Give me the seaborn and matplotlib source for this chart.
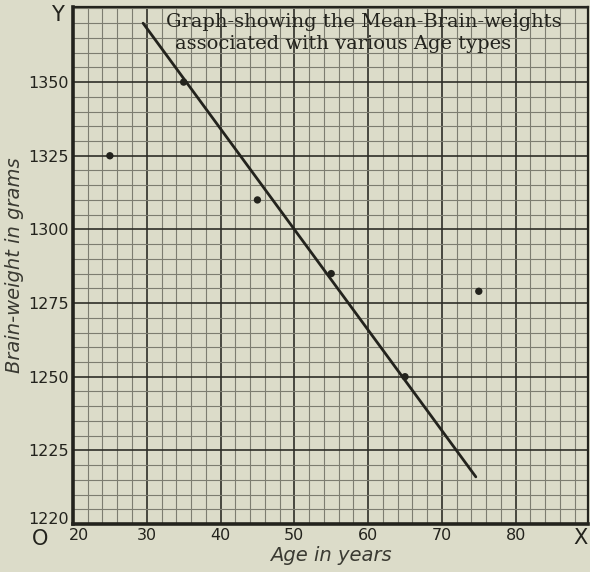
import numpy as np
import pandas as pd
import matplotlib.pyplot as plt
import seaborn as sns
from matplotlib.ticker import MultipleLocator
from matplotlib.transforms import offset_copy

# Mean brain-weight per age type
age = [25, 35, 45, 55, 65, 75]
brain_weight = [1325, 1350, 1310, 1285, 1250, 1279]

# the hand-drawn trend line
fit_age = [29.5, 74.6]
fit_weight = [1370, 1216]

x_ticks = [20, 30, 40, 50, 60, 70, 80]
x_tick_labels = ['20', '30', '40', '50', '60', '70', '80']
# the bottom line of the plate is labelled 1220 although it sits one step below 1225
y_ticks = [1200, 1225, 1250, 1275, 1300, 1325, 1350]
y_tick_labels = ['1220', '1225', '1250', '1275', '1300', '1325', '1350']

paper = '#dcdcc9'
ink = '#23231d'

sns.set_style('white')
plt.rcParams['font.family'] = ['DejaVu Sans']

points = pd.DataFrame({'age': age, 'weight': brain_weight})
trend = pd.DataFrame({'age': fit_age, 'weight': fit_weight})

fig = plt.figure(figsize=(5.9, 5.72), dpi=100, facecolor=paper)
ax = fig.add_axes([0.1237, 0.0839, 0.8729, 0.9039])
ax.set_facecolor(paper)

sns.lineplot(data=trend, x='age', y='weight', ax=ax, color=ink, linewidth=2.0, zorder=4)
sns.scatterplot(data=points, x='age', y='weight', ax=ax, color=ink, s=28,
                edgecolor='none', zorder=5)

ax.set_xlim(20, 89.8)
ax.set_ylim(1200, 1375.5)

# graph-paper grid
ax.xaxis.set_major_locator(MultipleLocator(10))
ax.yaxis.set_major_locator(MultipleLocator(25))
ax.xaxis.set_minor_locator(MultipleLocator(2))
ax.yaxis.set_minor_locator(MultipleLocator(5))
ax.grid(which='minor', color='#7d7d70', linewidth=0.8)
ax.grid(which='major', color='#2e2e27', linewidth=1.2)
ax.set_axisbelow(True)

ax.set_xticks(x_ticks, x_tick_labels)
ax.set_yticks(y_ticks, y_tick_labels)
ax.tick_params(which='both', length=0, labelsize=11.5, labelcolor=ink, pad=3)

# nudge the corner labels the way the plate has them
first_x = ax.get_xticklabels()[0]
first_x.set_transform(offset_copy(first_x.get_transform(), fig=fig, x=6, y=0, units='dots'))
first_y = ax.get_yticklabels()[0]
first_y.set_transform(offset_copy(first_y.get_transform(), fig=fig, x=0, y=6, units='dots'))

for side in ['left', 'bottom']:
    ax.spines[side].set_linewidth(2.6)
    ax.spines[side].set_color(ink)
for side in ['right', 'top']:
    ax.spines[side].set_linewidth(1.6)
    ax.spines[side].set_color(ink)

ax.set_xlabel('Age in years', fontsize=14, style='italic', color='#3a3a32', labelpad=2)
ax.set_ylabel('Brain-weight in grams', fontsize=14, style='italic', color='#3a3a32', labelpad=3)

# title written on the paper
ax.text(0.180, 0.970, 'Graph-showing the Mean-Brain-weights', transform=ax.transAxes,
        family='DejaVu Serif', fontsize=14, color=ink, ha='left', va='center', zorder=6)
ax.text(0.198, 0.928, 'associated with various Age types', transform=ax.transAxes,
        family='DejaVu Serif', fontsize=14, color=ink, ha='left', va='center', zorder=6)

# axis letters
fig.text(57 / 590, 1 - 15 / 572, 'Y', fontsize=15, color=ink, ha='center', va='center')
fig.text(40 / 590, 1 - 539 / 572, 'O', fontsize=15, color=ink, ha='center', va='center')
fig.text(581 / 590, 1 - 538 / 572, 'X', fontsize=15, color=ink, ha='center', va='center')

fig.savefig('out.png', dpi=100, facecolor=paper)
